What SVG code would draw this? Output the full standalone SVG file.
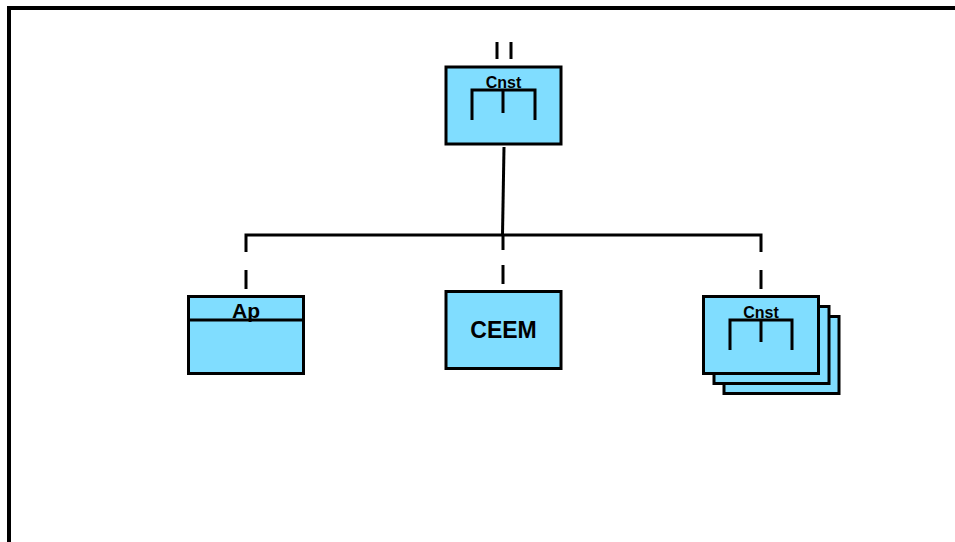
<svg xmlns="http://www.w3.org/2000/svg" width="955" height="542" viewBox="0 0 955 542">
  <style>
    .box { fill: #80ddff; stroke: #000; stroke-width: 3; }
    .ln { fill: none; stroke: #000; stroke-width: 3; }
    .lbl { font-family: "Liberation Sans", Arial, sans-serif; font-weight: bold; fill: #000; text-anchor: middle; }
  </style>
  <rect width="955" height="542" fill="#fff"/>
  <!-- frame -->
  <path d="M9,542 V8 H955" fill="none" stroke="#000" stroke-width="4"/>

  <g id="connectors">
    <line class="ln" x1="497" y1="42" x2="497" y2="59"/>
    <line class="ln" x1="511" y1="42" x2="511" y2="59"/>
    <line class="ln" x1="504" y1="147" x2="502.5" y2="235"/>
    <path class="ln" d="M246,252 V235 H761 V252"/>
    <line class="ln" x1="503" y1="235" x2="503" y2="250"/>
    <line class="ln" x1="246" y1="270" x2="246" y2="289"/>
    <line class="ln" x1="503" y1="265" x2="503" y2="284"/>
    <line class="ln" x1="761" y1="270" x2="761" y2="289"/>
  </g>

  <g id="cnst-top">
    <rect class="box" x="446" y="67" width="115" height="77"/>
    <text class="lbl" x="503.5" y="88" font-size="16">Cnst</text>
    <path class="ln" d="M472,120 V90 H535 V120 M503,90 V113"/>
  </g>

  <g id="ap">
    <rect class="box" x="188.5" y="296.5" width="115" height="77"/>
    <line class="ln" x1="188.5" y1="320" x2="303.5" y2="320"/>
    <text class="lbl" x="246" y="318" font-size="21">Ap</text>
  </g>

  <g id="ceem">
    <rect class="box" x="446" y="291.5" width="115" height="77"/>
    <text class="lbl" x="503.5" y="338" font-size="23">CEEM</text>
  </g>

  <g id="cnst-stack">
    <rect class="box" x="724" y="316.5" width="115" height="77"/>
    <rect class="box" x="714" y="306.5" width="115" height="77"/>
    <rect class="box" x="703.5" y="296.5" width="115" height="77"/>
    <text class="lbl" x="761" y="318" font-size="16">Cnst</text>
    <path class="ln" d="M730,350 V320 H792 V350 M761,320 V342"/>
  </g>
</svg>
